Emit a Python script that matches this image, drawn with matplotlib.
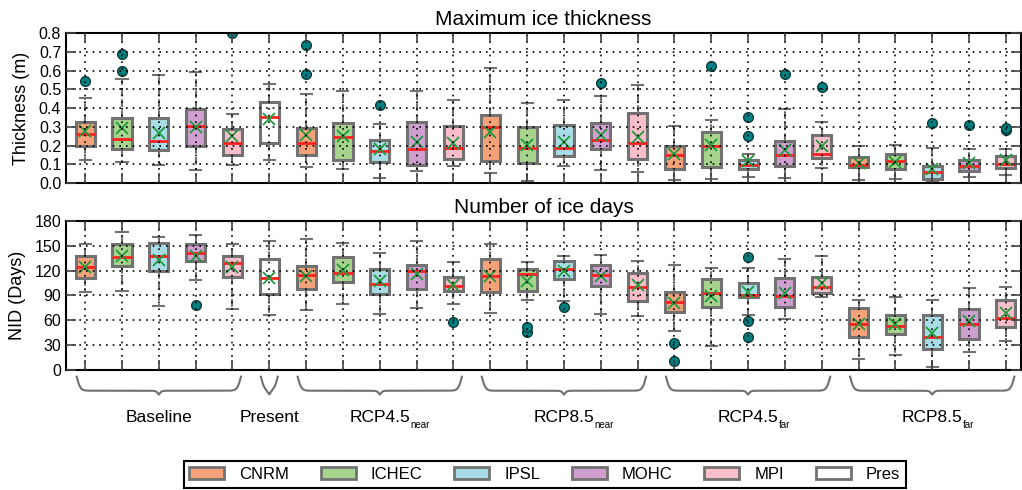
import numpy as np
import matplotlib.pyplot as plt
from matplotlib.patches import Patch

plt.rcParams['font.family'] = ['Liberation Sans', 'DejaVu Sans']
plt.rcParams['axes.linewidth'] = 1.5

# models / colours
models = ['CNRM', 'ICHEC', 'IPSL', 'MOHC', 'MPI', 'Pres']
model_colors = ['#f5a27a', '#a6d48c', '#a8dce6', '#cf9fcf', '#f8bfcb', 'white']

# groups along the x axis
group_names = ['Baseline', 'Present', 'RCP4.5', 'RCP8.5', 'RCP4.5', 'RCP8.5']
group_subs = ['', '', 'near', 'near', 'far', 'far']
group_sizes = [5, 1, 5, 5, 5, 5]

# maximum ice thickness (m), one value per box
thick_lo = [0.121, 0.113, 0.098, 0.068, 0.098, 0.121, 0.086, 0.077, 0.029, 0.066, 0.089, 0.054, 0.011,
            0.089, 0.070, 0.061, 0.014, 0.023, 0.032, 0.029, 0.080, 0.014, 0.020, 0.004, 0.032, 0.041]
thick_q1 = [0.198, 0.180, 0.177, 0.200, 0.152, 0.214, 0.152, 0.121, 0.114, 0.096, 0.127, 0.116, 0.105,
            0.146, 0.184, 0.129, 0.075, 0.086, 0.075, 0.089, 0.132, 0.086, 0.073, 0.023, 0.066, 0.080]
thick_med = [0.259, 0.236, 0.223, 0.304, 0.214, 0.350, 0.214, 0.243, 0.173, 0.182, 0.189, 0.300, 0.189,
             0.186, 0.229, 0.214, 0.152, 0.196, 0.098, 0.150, 0.157, 0.098, 0.116, 0.057, 0.091, 0.100]
thick_q3 = [0.323, 0.348, 0.345, 0.393, 0.287, 0.430, 0.295, 0.321, 0.230, 0.325, 0.304, 0.362, 0.298,
            0.312, 0.320, 0.371, 0.196, 0.273, 0.125, 0.223, 0.255, 0.139, 0.155, 0.089, 0.121, 0.143]
thick_hi = [0.452, 0.555, 0.575, 0.593, 0.368, 0.529, 0.475, 0.489, 0.314, 0.493, 0.443, 0.616, 0.427,
            0.441, 0.462, 0.523, 0.302, 0.334, 0.157, 0.393, 0.327, 0.196, 0.202, 0.187, 0.180, 0.184]
thick_mean = [0.277, 0.291, 0.268, 0.298, 0.252, 0.339, 0.257, 0.250, 0.180, 0.221, 0.216, 0.271, 0.205,
              0.218, 0.257, 0.246, 0.154, 0.202, 0.118, 0.175, 0.198, 0.109, 0.114, 0.073, 0.107, 0.121]
thick_fliers = [[0.545], [0.598, 0.686], [], [], [0.80], [], [0.582, 0.736], [], [0.416], [], [], [], [],
                [], [0.534], [], [], [0.623], [0.25, 0.354], [0.582], [0.511], [], [], [0.321], [0.307],
                [0.282, 0.295]]

# number of ice days
days_lo = [94.2, 95.8, 76.9, 108.3, 73.7, 66.0, 72.5, 79.3, 67.7, 74.5, 79.7, 68.5, 85.0,
           83.8, 67.7, 65.6, 47.5, 28.6, 66.0, 62.0, 88.2, 13.3, 18.1, 4.0, 21.7, 35.0]
days_q1 = [110.7, 125.2, 120.0, 131.3, 112.0, 91.4, 97.9, 106.7, 91.4, 97.9, 95.8, 93.8, 95.8,
           110.0, 101.9, 83.4, 69.7, 75.7, 87.8, 75.7, 92.6, 40.3, 43.5, 25.8, 37.9, 52.0]
days_med = [124.0, 136.5, 137.3, 141.3, 129.7, 111.1, 114.8, 117.2, 104.3, 120.0, 101.9, 113.6, 116.0,
            121.6, 115.2, 100.3, 82.2, 93.4, 91.0, 89.4, 100.3, 55.2, 53.2, 40.3, 55.2, 63.2]
days_q3 = [138.0, 151.8, 153.4, 151.8, 138.0, 133.7, 126.0, 136.0, 122.4, 126.9, 112.0, 134.5, 122.0,
           131.3, 126.9, 116.8, 93.8, 109.5, 105.5, 111.1, 112.4, 74.5, 66.0, 66.4, 74.1, 84.6]
days_hi = [151.8, 166.3, 160.3, 162.7, 152.6, 156.2, 158.7, 153.0, 141.0, 155.8, 130.5, 152.6, 130.5,
           137.7, 139.3, 132.0, 127.3, 123.2, 123.2, 134.5, 138.1, 84.2, 88.2, 85.0, 99.1, 100.3]
days_mean = [124.8, 138.0, 133.3, 138.0, 124.0, 110.7, 113.2, 120.8, 107.9, 115.6, 102.3, 113.6, 107.5,
             119.2, 113.2, 102.7, 81.3, 89.4, 93.8, 93.4, 104.7, 55.2, 56.0, 45.1, 58.8, 68.5]
days_fliers = [[], [], [], [78.9], [], [], [], [], [], [], [58.4], [], [46.3, 52.4], [76.5], [], [],
               [10.9, 33.0], [], [40.3, 59.2, 136.5], [], [], [], [], [], [], []]

# which model each box belongs to
box_model = []
for n in group_sizes:
    box_model += list(range(5)) if n == 5 else [5]
positions = np.arange(1, len(box_model) + 1)


def draw_boxes(ax, lo, q1, med, q3, hi, mean, fliers):
    stats = [dict(whislo=a, q1=b, med=c, q3=d, whishi=e, mean=f, fliers=g)
             for a, b, c, d, e, f, g in zip(lo, q1, med, q3, hi, mean, fliers)]
    bp = ax.bxp(stats, positions=positions, widths=0.52, patch_artist=True, showmeans=True,
                manage_ticks=False, capwidths=0.3,
                boxprops=dict(edgecolor='#727272', linewidth=2.2),
                whiskerprops=dict(color='#727272', linewidth=1.5, linestyle='--'),
                capprops=dict(color='#727272', linewidth=1.5),
                medianprops=dict(color='#ff2020', linewidth=2),
                meanprops=dict(marker='x', markeredgecolor='#1f9a3c', markersize=9, markeredgewidth=1.3),
                flierprops=dict(marker='o', markerfacecolor='#008080', markeredgecolor='#0b3a3a',
                                markersize=7))
    for patch, m in zip(bp['boxes'], box_model):
        patch.set_facecolor(model_colors[m])
    ax.set_xlim(0.48, 26.41)
    ax.set_xticks(positions)
    ax.tick_params(axis='x', labelbottom=False)
    ax.tick_params(direction='in', top=True, right=True, length=7, width=1.2, color='#444444',
                   labelsize=11.5)
    ax.grid(True, color='black', linestyle=(0, (1, 3)), linewidth=1.2)
    ax.set_axisbelow(False)


fig = plt.figure(figsize=(10.22, 4.9), dpi=100)
ax1 = fig.add_axes([0.0646, 0.6265, 0.9344, 0.3061])
ax2 = fig.add_axes([0.0646, 0.2449, 0.9344, 0.3041])

draw_boxes(ax1, thick_lo, thick_q1, thick_med, thick_q3, thick_hi, thick_mean, thick_fliers)
ax1.set_ylim(0, 0.8)
ax1.set_yticks(np.arange(0, 0.81, 0.1))
ax1.set_ylabel('Thickness (m)', fontsize=13, labelpad=6)
ax1.set_title('Maximum ice thickness', fontsize=15, pad=6)

draw_boxes(ax2, days_lo, days_q1, days_med, days_q3, days_hi, days_mean, days_fliers)
ax2.set_ylim(0, 180)
ax2.set_yticks(np.arange(0, 181, 30))
ax2.set_ylabel('NID (Days)', fontsize=13, labelpad=6)
ax2.set_title('Number of ice days', fontsize=15, pad=6)

# curly braces and group labels under the lower panel
trans = ax2.get_xaxis_transform()
start = 1
for name, sub, n in zip(group_names, group_subs, group_sizes):
    x0, x1 = start - 0.23, start + n - 1 + 0.23
    xm = 0.5 * (x0 + x1)
    xs = np.linspace(x0, x1, 400)
    d = np.minimum(xs - x0, x1 - xs)
    ys = -0.045 - 0.094 * np.tanh(10 * d) - 0.027 * (1 - np.tanh(14 * np.abs(xs - xm)))
    ax2.plot(xs, ys, color='#707070', linewidth=1.5, transform=trans, clip_on=False)
    t = ax2.text(xm, -0.347, name, transform=trans, ha='center', va='baseline', fontsize=12.5)
    if sub:
        ax2.annotate(sub, xy=(1.0, 0.0), xycoords=t, ha='left', va='center', fontsize=7)
    start += n

handles = [Patch(facecolor=c, edgecolor='#727272', linewidth=2) for c in model_colors]
leg = fig.legend(handles, models, loc='center', bbox_to_anchor=(0.533, 0.032), ncol=6,
                 fontsize=12, fancybox=False, edgecolor='black', framealpha=1,
                 handlelength=2.1, handletextpad=0.9, columnspacing=1.9, borderpad=0.35)
leg.get_frame().set_linewidth(1.5)

fig.savefig('out.png', dpi=100)
